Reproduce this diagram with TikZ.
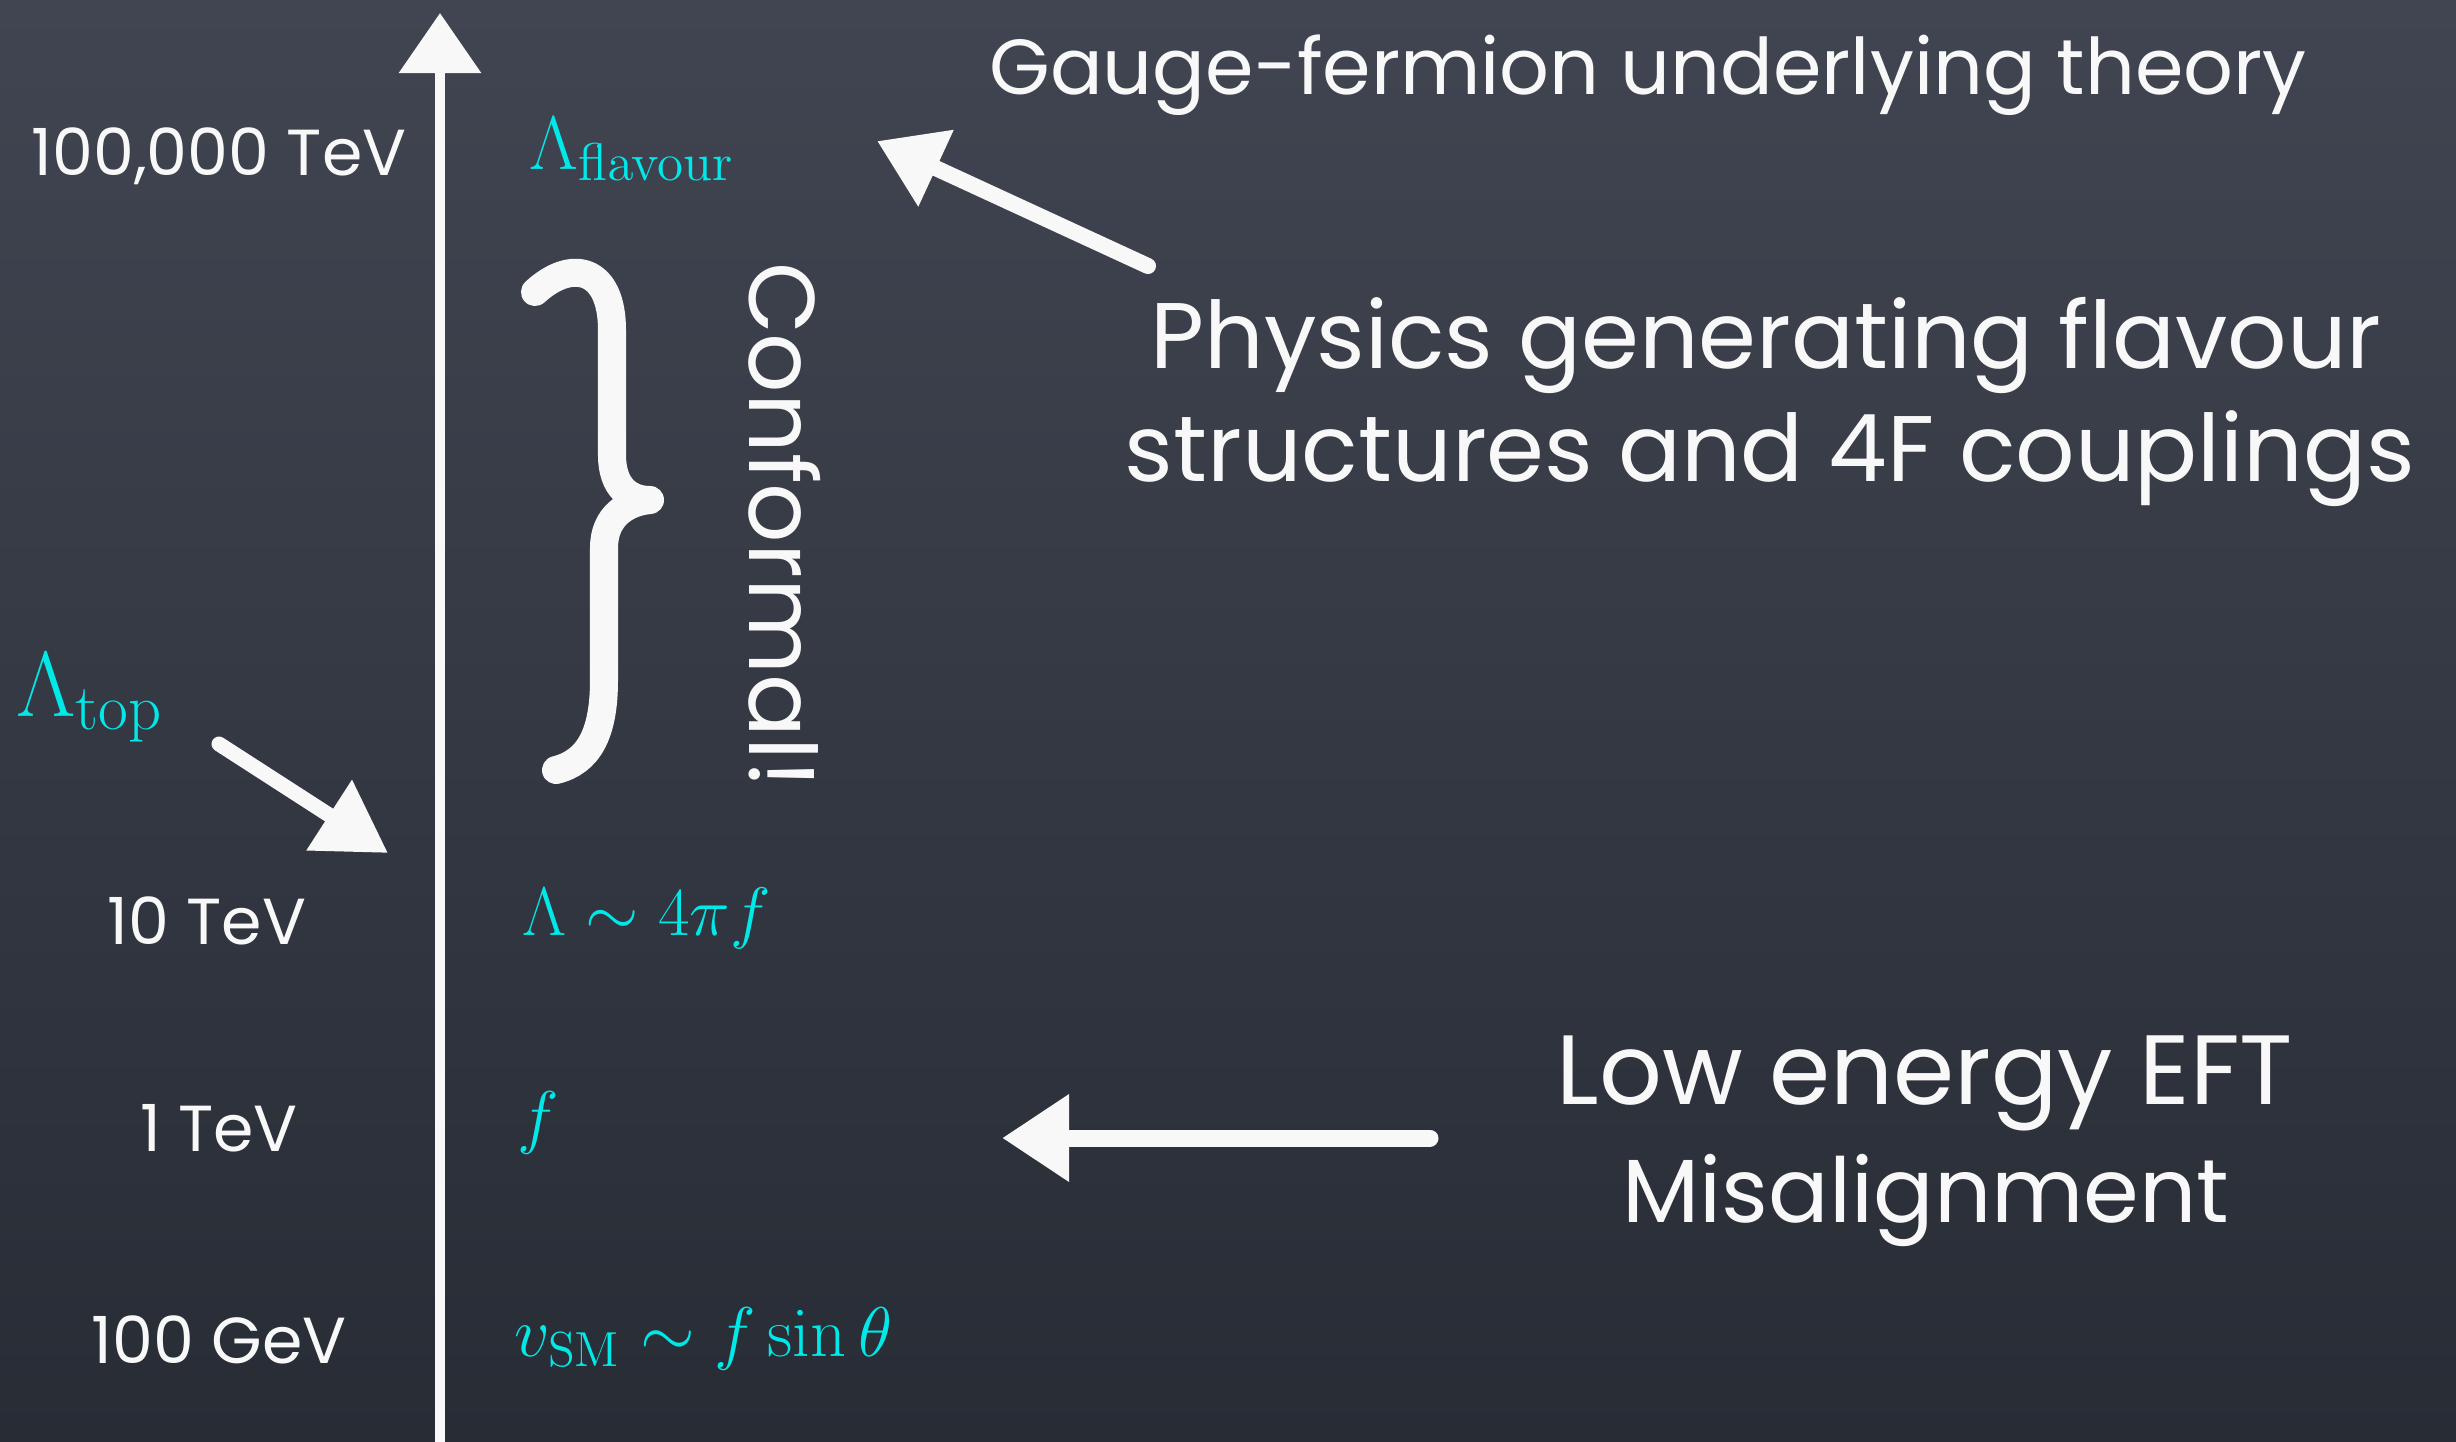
\RequirePackage{fix-cm}
\documentclass[tikz,border=0pt]{standalone}
\usepackage[no-math]{fontspec}
\setmainfont{Poppins}
\usetikzlibrary{arrows.meta}
\definecolor{bgtop}{RGB}{64,69,81}
\definecolor{bgbot}{RGB}{40,44,53}
\definecolor{chalk}{RGB}{248,248,248}
\definecolor{cyanchalk}{RGB}{0,232,232}
\begin{document}
\begin{tikzpicture}[x=0.01cm,y=-0.01cm,
  chalktext/.style={text=chalk, inner sep=0pt, anchor=base},
  mathlbl/.style={text=cyanchalk, inner sep=0pt, anchor=base west, font=\fontsize{20}{24}\selectfont},
  chalkline/.style={draw=chalk, line cap=round, line join=round},
  scalelbl/.style={chalktext, font=\fontsize{18.5}{22}\selectfont},
  bigtext/.style={chalktext, font=\fontsize{26.5}{31}\selectfont},
]
\shade[top color=bgtop, bottom color=bgbot] (0,0) rectangle (2456,1441);
\useasboundingbox (0,0) rectangle (2456,1441);

% energy axis
\coordinate (axbot) at (440,1450);
\coordinate (axtop) at (440,13);
\draw[chalkline, line width=0.1cm, -{Triangle[width=0.8cm,length=0.6cm]}] (axbot) -- (axtop);

% scale labels
\node[scalelbl] (s100k) at (219,175) {100,000 TeV};
\node[scalelbl] (s10) at (207,944) {10 TeV};
\node[scalelbl] (s1) at (219,1151) {1 TeV};
\node[scalelbl] (s100) at (219,1363) {100 GeV};

% cyan math labels
\node[mathlbl, font=\fontsize{21.6}{26}\selectfont] (lflav) at (529,169) {$\Lambda_{\mathrm{flavour}}$};
\node[mathlbl, font=\fontsize{26.3}{31}\selectfont] (ltop) at (16,716) {$\Lambda_{\mathrm{top}}$};
\node[mathlbl, font=\fontsize{19.5}{23}\selectfont] (lam) at (522,935) {$\Lambda\sim4\pi f$};
\node[mathlbl] (fnode) at (517,1140) {$f$};
\node[mathlbl] (vsm) at (514,1356) {$v_{\mathrm{SM}}\sim f\sin\theta$};

% Lambda_top arrow
\coordinate (ltopA) at (219,744);
\coordinate (ltopB) at (388,853);
\draw[chalkline, line width=0.15cm, -{Triangle[width=0.8cm,length=0.7cm]}] (ltopA) -- (ltopB);

% brace
\draw[chalkline, line width=0.28cm]
  (535,292) .. controls (572,258) and (612,268) .. (612,330)
  -- (612,455) .. controls (612,488) and (630,500) .. (650,500)
  .. controls (628,502) and (604,515) .. (604,548)
  -- (604,680) .. controls (604,735) and (588,762) .. (556,770);

% Conformal!
\node[chalktext, rotate=-90, font=\fontsize{26.5}{31}\selectfont] (conf) at (749,525) {Conformal!};

% top right
\node[chalktext, font=\fontsize{22.2}{27}\selectfont] (gauge) at (1648,94) {Gauge-fermion underlying theory};
\coordinate (gA) at (1148,266);
\coordinate (gB) at (877,141);
\draw[chalkline, line width=0.16cm, -{Triangle[width=0.8cm,length=0.65cm]}] (gA) -- (gB);

\node[bigtext] (phys1) at (1766,368) {Physics generating flavour};
\node[bigtext] (phys2) at (1770,481) {structures and 4F couplings};

% bottom right
\node[chalktext, font=\fontsize{28}{33}\selectfont] (eft1) at (1925,1104) {Low energy EFT};
\node[chalktext, font=\fontsize{25.5}{30}\selectfont] (eft2) at (1926,1222) {Misalignment};
\coordinate (eA) at (1430,1138);
\coordinate (eB) at (1002,1138);
\draw[chalkline, line width=0.17cm, -{Triangle[width=0.83cm,length=0.67cm]}] (eA) -- (eB);
\end{tikzpicture}
\end{document}
